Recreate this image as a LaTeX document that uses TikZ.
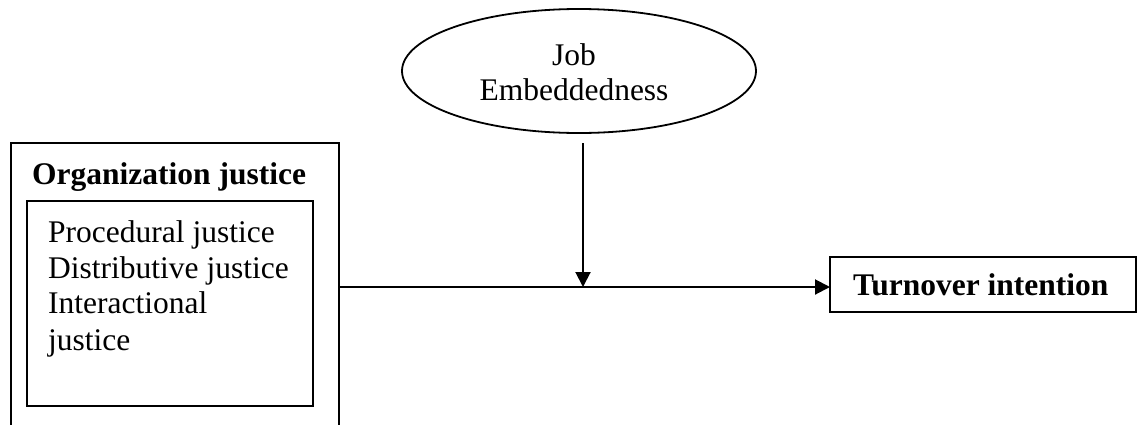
\documentclass[tikz,border=0pt]{standalone}
\usepackage{fontspec}
\setmainfont{Liberation Serif}
\usetikzlibrary{shapes.geometric,arrows.meta}
\begin{document}
\begin{tikzpicture}[x=1pt,y=-1pt,
  line/.style={line width=2pt},
  arr/.style={line width=2pt,-{Triangle[length=15pt,width=15pt]}},
  txt/.style={font=\fontsize{31.5}{36}\selectfont,inner sep=0pt,anchor=base west},
  btxt/.style={font=\fontsize{31.5}{36}\selectfont\bfseries,inner sep=0pt,anchor=base west}]
\useasboundingbox (0,0) rectangle (1138,424);
% outer box (open at bottom)
\draw[line] (11,430) -- (11,143) -- (339,143) -- (339,430);
\node[btxt] (oj) at (32,184) {Organization justice};
% inner box
\draw[line] (27,201) rectangle (313,406);
\node[txt] (p1) at (48,242) {Procedural justice};
\node[txt] (p2) at (48,278) {Distributive justice};
\node[txt] (p3) at (48,313) {Interactional};
\node[txt] (p4) at (48,350) {justice};
\coordinate (ojr) at (339,287);
% ellipse
\node[draw,line width=1.8pt,ellipse,minimum width=354pt,minimum height=124pt,inner sep=0pt] (je) at (579,71) {};
\node[txt,anchor=base] (j1) at (574,65) {Job};
\node[txt,anchor=base] (j2) at (574,100) {Embeddedness};
% turnover box
\draw[line] (830,257) rectangle (1136,312);
\node[btxt] (ti) at (853,295) {Turnover intention};
\coordinate (tl) at (830,287);
\coordinate (vtop) at (583,143);
\coordinate (vbot) at (583,287);
\draw[arr] (ojr) -- (tl);
\draw[arr] (vtop) -- (vbot);
\end{tikzpicture}
\end{document}
